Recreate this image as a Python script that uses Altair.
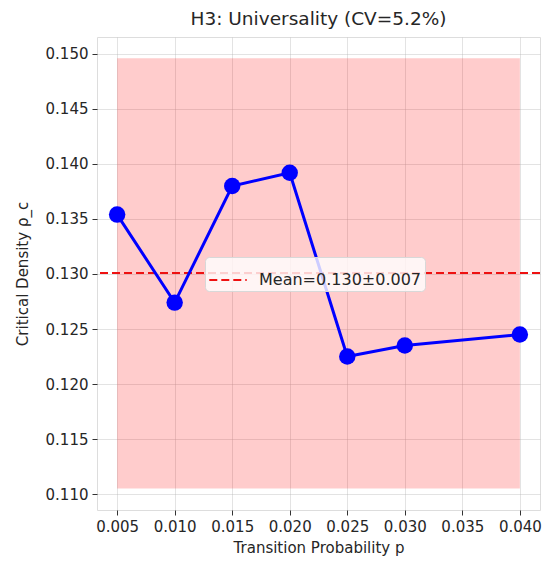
import altair as alt
import pandas as pd

# Critical density measured at each transition probability
p_values = [0.005, 0.010, 0.015, 0.020, 0.025, 0.030, 0.040]
rho_c = [0.1354, 0.1274, 0.1380, 0.1392, 0.1225, 0.1235, 0.1245]

mean_rho = 0.1301
band_low = 0.1105
band_high = 0.1496
mean_label = "Mean=0.130±0.007"

x_ticks = [0.005, 0.010, 0.015, 0.020, 0.025, 0.030, 0.035, 0.040]
y_ticks = [0.110, 0.115, 0.120, 0.125, 0.130, 0.135, 0.140, 0.145, 0.150]

points = pd.DataFrame({"p": p_values, "rho": rho_c})
band = pd.DataFrame({"x0": [min(p_values)], "x1": [max(p_values)],
                     "y0": [band_low], "y1": [band_high]})
mean_df = pd.DataFrame({"rho": [mean_rho], "label": [mean_label]})

FONT = "DejaVu Sans"
TXT = "#262626"

x_scale = alt.Scale(domain=[0.00325, 0.04175], nice=False, zero=False)
y_scale = alt.Scale(domain=[0.10855, 0.15154], nice=False, zero=False)

x_axis = alt.Axis(title="Transition Probability p", values=x_ticks, format=".3f",
                  grid=True, gridColor="#b0b0b0", gridOpacity=0.35,
                  tickSize=5, tickColor="#333", labelPadding=4,
                  labelFontSize=15, labelColor=TXT, labelFont=FONT,
                  titleFontSize=15, titleColor=TXT, titleFont=FONT,
                  titleFontWeight="normal", titlePadding=6,
                  domain=False)
y_axis = alt.Axis(title="Critical Density ρ_c", values=y_ticks, format=".3f",
                  grid=True, gridColor="#b0b0b0", gridOpacity=0.35,
                  tickSize=5, tickColor="#333", labelPadding=4,
                  labelFontSize=15, labelColor=TXT, labelFont=FONT,
                  titleFontSize=15, titleColor=TXT, titleFont=FONT,
                  titleFontWeight="normal", titlePadding=15,
                  domain=False)

shade = alt.Chart(band).mark_rect(color="red", opacity=0.2).encode(
    x=alt.X("x0:Q", scale=x_scale, axis=x_axis),
    x2="x1:Q",
    y=alt.Y("y0:Q", scale=y_scale, axis=y_axis),
    y2="y1:Q",
)

mean_line = alt.Chart(mean_df).mark_rule(strokeWidth=2, strokeDash=[8, 4]).encode(
    y=alt.Y("rho:Q", scale=y_scale),
    color=alt.Color("label:N", scale=alt.Scale(range=["#ee1111"]),
                    legend=alt.Legend(title=None, orient="none",
                                      legendX=108, legendY=220,
                                      symbolType="stroke", symbolSize=1400,
                                      symbolStrokeWidth=2, symbolDash=[8, 4],
                                      labelFontSize=16, labelFont=FONT,
                                      labelColor=TXT, labelOffset=11,
                                      labelLimit=400,
                                      fillColor="rgba(255,255,255,0.8)",
                                      strokeColor="#d8d8d8", cornerRadius=4,
                                      padding=3)),
)

line = alt.Chart(points).mark_line(color="#0000ff", strokeWidth=3).encode(
    x=alt.X("p:Q", scale=x_scale),
    y=alt.Y("rho:Q", scale=y_scale),
)
dots = alt.Chart(points).mark_circle(color="#0000ff", opacity=1, size=270).encode(
    x=alt.X("p:Q", scale=x_scale),
    y=alt.Y("rho:Q", scale=y_scale),
)

chart = alt.layer(shade, mean_line, line, dots).properties(
    width=443,
    height=473,
    title=alt.Title("H3: Universality (CV=5.2%)", fontSize=18.5, font=FONT,
                    fontWeight="normal", color=TXT, offset=9),
    autosize=alt.AutoSizeParams(type="none"),
    padding={"left": 97, "top": 37, "right": 5, "bottom": 57},
).configure_view(
    stroke="#444", strokeWidth=1.2
).configure(background="white")

chart.save("out.html", embed_options={"renderer": "svg", "actions": False})
